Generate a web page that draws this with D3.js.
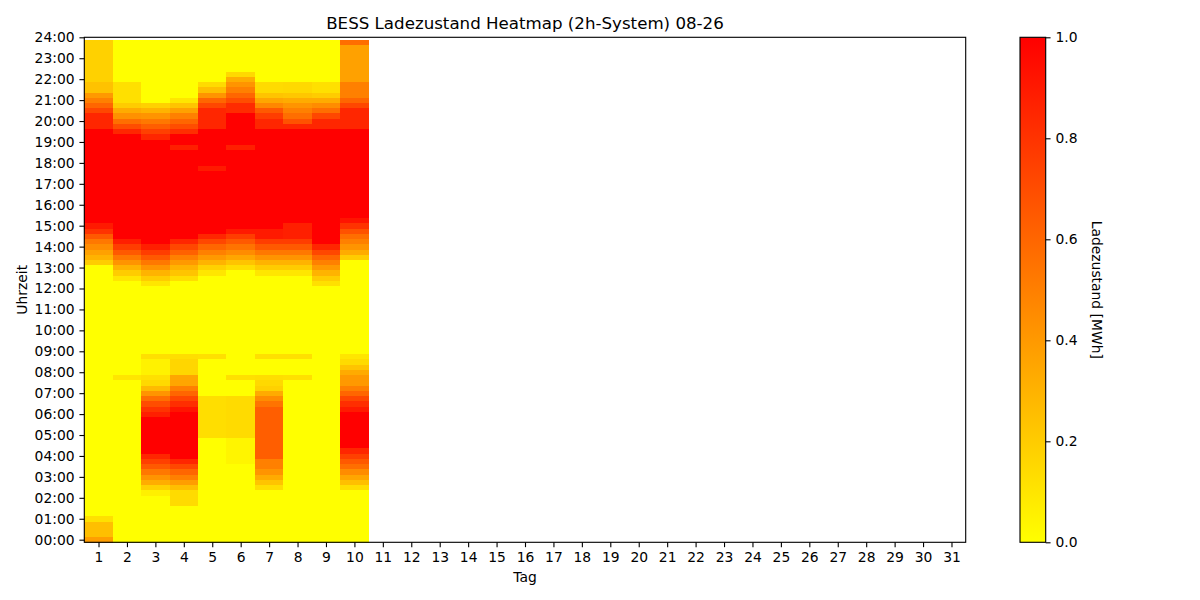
<!DOCTYPE html>
<html>
<head>
<meta charset="utf-8">
<script src="https://cdn.jsdelivr.net/npm/d3@7"></script>
<style>
  body { margin: 0; background: #fff; }
  svg text { font-family: "DejaVu Sans", sans-serif; fill: #000; }
</style>
</head>
<body>
<div id="chart"></div>
<script>
// days of the month on the x axis
const days = d3.range(1, 32);
// hour tick labels on the y axis (ticks sit on 15-min row centres)
const hourLabels = ["00:00","01:00","02:00","03:00","04:00","05:00","06:00","07:00","08:00","09:00","10:00","11:00","12:00",
  "13:00","14:00","15:00","16:00","17:00","18:00","19:00","20:00","21:00","22:00","23:00","24:00"];
const colorbarTicks = [0.0, 0.2, 0.4, 0.6, 0.8, 1.0];

// state of charge [MWh] per 15-min slot, 00:00 .. 23:45 (one line = two hours)
const soc01 = [
  0.38,0.25,0.25,0.25, 0.12,0,0,0,
  0,0,0,0, 0,0,0,0,
  0,0,0,0, 0,0,0,0,
  0,0,0,0, 0,0,0,0,
  0,0,0,0, 0,0,0,0,
  0,0,0,0, 0,0,0,0,
  0,0,0,0, 0,0.2,0.3,0.37,
  0.45,0.53,0.65,0.8, 0.9,1,1,1,
  1,1,1,1, 1,1,1,1,
  1,1,1,1, 1,1,1,0.85,
  0.85,0.85,0.72,0.6, 0.5,0.4,0.24,0.24,
  0.18,0.18,0.18,0.18, 0.18,0.18,0.18,0.18
];
const soc02 = [
  0,0,0,0, 0,0,0,0,
  0,0,0,0, 0,0,0,0,
  0,0,0,0, 0,0,0,0,
  0,0,0,0, 0,0,0,0.1,
  0,0,0,0, 0,0,0,0,
  0,0,0,0, 0,0,0,0,
  0,0,0.1,0.2, 0.3,0.42,0.53,0.65,
  0.76,0.88,1,1, 1,1,1,1,
  1,1,1,1, 1,1,1,1,
  1,1,1,1, 1,1,0.85,0.7,
  0.57,0.43,0.33,0.2, 0.12,0.12,0.12,0.12,
  0,0,0,0, 0,0,0,0
];
const soc03 = [
  0,0,0,0, 0,0,0,0,
  0,0.06,0.18,0.32, 0.42,0.53,0.65,0.75,
  0.85,1,1,1, 1,1,1,1,
  0.88,0.8,0.7,0.57, 0.42,0.27,0.15,0.12,
  0.05,0.05,0.05,0.12, 0,0,0,0,
  0,0,0,0, 0,0,0,0,
  0,0.1,0.2,0.3, 0.42,0.53,0.65,0.76,
  0.88,1,1,1, 1,1,1,1,
  1,1,1,1, 1,1,1,1,
  1,1,1,1, 1,0.85,0.75,0.63,
  0.53,0.42,0.3,0.18, 0,0,0,0,
  0,0,0,0, 0,0,0,0
];
const soc04 = [
  0,0,0,0, 0,0,0,0.14,
  0.14,0.14,0.25,0.38, 0.5,0.6,0.72,0.85,
  1,1,1,1, 1,1,1,1,
  1,0.92,0.82,0.72, 0.6,0.5,0.35,0.35,
  0.16,0.16,0.16,0.13, 0,0,0,0,
  0,0,0,0, 0,0,0,0,
  0,0,0.13,0.23, 0.3,0.4,0.5,0.62,
  0.72,0.85,1,1, 1,1,1,1,
  1,1,1,1, 1,1,1,1,
  1,1,1,0.88, 1,1,0.82,0.7,
  0.6,0.5,0.37,0.23, 0.1,0,0,0,
  0,0,0,0, 0,0,0,0
];
const soc05 = [
  0,0,0,0, 0,0,0,0,
  0,0,0,0, 0,0,0,0,
  0,0,0,0, 0.13,0.13,0.13,0.13,
  0.13,0.13,0.13,0.13, 0,0,0,0,
  0,0,0,0.12, 0,0,0,0,
  0,0,0,0, 0,0,0,0,
  0,0,0,0.1, 0.18,0.3,0.4,0.5,
  0.6,0.72,0.85,1, 1,1,1,1,
  1,1,1,1, 1,1,1,0.9,
  1,1,1,1, 1,1,1,0.85,
  0.85,0.85,0.85,0.72, 0.6,0.42,0.25,0.14,
  0,0,0,0, 0,0,0,0
];
const soc06 = [
  0,0,0,0, 0,0,0,0,
  0,0,0,0, 0,0,0,0.04,
  0.04,0.04,0.04,0.04, 0.14,0.14,0.14,0.14,
  0.14,0.14,0.14,0.14, 0,0,0,0.12,
  0,0,0,0, 0,0,0,0,
  0,0,0,0, 0,0,0,0,
  0,0,0,0, 0.13,0.23,0.35,0.45,
  0.55,0.65,0.76,0.9, 1,1,1,1,
  1,1,1,1, 1,1,1,1,
  1,1,1,0.88, 1,1,1,1,
  1,1,0.83,0.83, 0.7,0.6,0.5,0.42,
  0.32,0.15,0,0, 0,0,0,0
];
const soc07 = [
  0,0,0,0, 0,0,0,0,
  0,0,0.13,0.23, 0.33,0.42,0.5,0.5,
  0.63,0.63,0.63,0.63, 0.63,0.63,0.63,0.63,
  0.63,0.63,0.55,0.45, 0.33,0.18,0.15,0.13,
  0,0,0,0.12, 0,0,0,0,
  0,0,0,0, 0,0,0,0,
  0,0,0,0.1, 0.2,0.3,0.42,0.53,
  0.65,0.76,0.9,0.9, 1,1,1,1,
  1,1,1,1, 1,1,1,1,
  1,1,1,1, 1,1,1,0.85,
  0.85,0.76,0.65,0.47, 0.35,0.23,0.14,0.14,
  0,0,0,0, 0,0,0,0
];
const soc08 = [
  0,0,0,0, 0,0,0,0,
  0,0,0,0, 0,0,0,0,
  0,0,0,0, 0,0,0,0,
  0,0,0,0, 0,0,0,0.12,
  0,0,0,0.12, 0,0,0,0,
  0,0,0,0, 0,0,0,0,
  0,0,0,0.1, 0.2,0.3,0.42,0.53,
  0.65,0.76,0.88,0.88, 0.88,1,1,1,
  1,1,1,1, 1,1,1,1,
  1,1,1,1, 1,1,1,0.85,
  0.68,0.57,0.5,0.42, 0.33,0.22,0.15,0.15,
  0,0,0,0, 0,0,0,0
];
const soc09 = [
  0,0,0,0, 0,0,0,0,
  0,0,0,0, 0,0,0,0,
  0,0,0,0, 0,0,0,0,
  0,0,0,0, 0,0,0,0,
  0,0,0,0, 0,0,0,0,
  0,0,0,0, 0,0,0,0,
  0,0.12,0.2,0.3, 0.4,0.5,0.6,0.72,
  0.85,1,1,1, 1,1,1,1,
  1,1,1,1, 1,1,1,1,
  1,1,1,1, 1,1,1,0.85,
  0.85,0.72,0.57,0.45, 0.33,0.2,0.12,0.12,
  0,0,0,0, 0,0,0,0
];
const soc10 = [
  0,0,0,0, 0,0,0,0,
  0,0,0.13,0.25, 0.35,0.45,0.57,0.65,
  0.75,0.85,1,1, 1,1,1,1,
  1,0.9,0.82,0.72, 0.6,0.5,0.4,0.4,
  0.33,0.23,0.14,0.1, 0,0,0,0,
  0,0,0,0, 0,0,0,0,
  0,0,0,0, 0,0,0.2,0.33,
  0.42,0.5,0.57,0.68, 0.8,0.92,1,1,
  1,1,1,1, 1,1,1,1,
  1,1,1,1, 1,1,1,0.85,
  0.85,0.85,0.85,0.72, 0.6,0.5,0.5,0.5,
  0.37,0.37,0.37,0.37, 0.37,0.37,0.37,0.57
];
// days 11..31 have no data yet
const socByDay = [soc01, soc02, soc03, soc04, soc05, soc06, soc07, soc08, soc09, soc10];

const w = 1200;
const h = 600;
const plot = { left: 84.3, right: 965.7, top: 37.3, bottom: 542.3 };
const cbar = { left: 1020, right: 1045.7 };
const pt = 100 / 72;

// flatten into cells
const cells = [];
socByDay.forEach(function (arr, i) {
  arr.forEach(function (v, r) {
    cells.push({ day: i + 1, slot: r, value: v });
  });
});

const xScale = d3.scaleLinear().domain([0.5, 31.5]).range([plot.left, plot.right]);
// rows are 15-minute slots; slot r is centred at r/4 hours, axis runs up to 24:00
const yScale = d3.scaleLinear().domain([-0.125, 24]).range([plot.bottom, plot.top]);
const color = d3.scaleSequential([0, 1], d3.interpolateRgb("#ffff00", "#ff0000"));

const svg = d3.select("#chart").append("svg").attr("width", w).attr("height", h);

svg.append("g")
  .attr("shape-rendering", "crispEdges")
  .selectAll("rect")
  .data(cells)
  .enter()
  .append("rect")
  .attr("x", (d) => xScale(d.day - 0.5))
  .attr("width", (d) => xScale(d.day + 0.5) - xScale(d.day - 0.5) + 0.3)
  .attr("y", (d) => yScale((d.slot + 0.5) / 4))
  .attr("height", (d) => yScale((d.slot - 0.5) / 4) - yScale((d.slot + 0.5) / 4) + 0.3)
  .style("fill", (d) => color(d.value));

const tickLen = 3.5 * pt;
const fontSize = 10 * pt;

const xAxis = d3.axisBottom(xScale).tickValues(days).tickFormat(d3.format("d"))
  .tickSizeInner(tickLen).tickSizeOuter(0).tickPadding(3.5 * pt);
const yAxis = d3.axisLeft(yScale).tickValues(d3.range(0, 25)).tickFormat((d) => hourLabels[d])
  .tickSizeInner(tickLen).tickSizeOuter(0).tickPadding(3.5 * pt);

const gx = svg.append("g")
  .attr("transform", `translate(0, ${plot.bottom})`)
  .call(xAxis);
const gy = svg.append("g")
  .attr("transform", `translate(${plot.left}, 0)`)
  .call(yAxis);

[gx, gy].forEach(function (g) {
  g.select(".domain").remove();
  g.selectAll(".tick line").attr("stroke", "#000").attr("stroke-width", 0.8 * pt);
  g.selectAll(".tick text").style("font-size", fontSize + "px").style("font-family", "DejaVu Sans");
});

// axes frame
svg.append("rect")
  .attr("x", plot.left).attr("y", plot.top)
  .attr("width", plot.right - plot.left).attr("height", plot.bottom - plot.top)
  .attr("fill", "none").attr("stroke", "#000").attr("stroke-width", 0.8 * pt);

svg.append("text")
  .attr("x", (plot.left + plot.right) / 2).attr("y", 29)
  .attr("text-anchor", "middle")
  .style("font-size", 12 * pt + "px")
  .text("BESS Ladezustand Heatmap (2h-System) 08-26");

svg.append("text")
  .attr("x", (plot.left + plot.right) / 2).attr("y", 582)
  .attr("text-anchor", "middle")
  .style("font-size", fontSize + "px")
  .text("Tag");

svg.append("text")
  .attr("transform", `translate(27, ${(plot.top + plot.bottom) / 2}) rotate(-90)`)
  .attr("text-anchor", "middle")
  .style("font-size", fontSize + "px")
  .text("Uhrzeit");

// colorbar
const defs = svg.append("defs");
const grad = defs.append("linearGradient")
  .attr("id", "cbar-grad")
  .attr("x1", "0").attr("y1", "1").attr("x2", "0").attr("y2", "0");
colorbarTicks.forEach(function (t) {
  grad.append("stop").attr("offset", t).attr("stop-color", color(t));
});

const cScale = d3.scaleLinear().domain([0, 1]).range([plot.bottom, plot.top]);

svg.append("rect")
  .attr("x", cbar.left).attr("y", plot.top)
  .attr("width", cbar.right - cbar.left).attr("height", plot.bottom - plot.top)
  .attr("fill", "url(#cbar-grad)")
  .attr("stroke", "#000").attr("stroke-width", 0.8 * pt);

const cAxis = d3.axisRight(cScale).tickValues(colorbarTicks).tickFormat(d3.format(".1f"))
  .tickSizeInner(tickLen).tickSizeOuter(0).tickPadding(3.5 * pt);
const gc = svg.append("g")
  .attr("transform", `translate(${cbar.right}, 0)`)
  .call(cAxis);
gc.select(".domain").remove();
gc.selectAll(".tick line").attr("stroke", "#000").attr("stroke-width", 0.8 * pt);
gc.selectAll(".tick text").style("font-size", fontSize + "px").style("font-family", "DejaVu Sans");

svg.append("text")
  .attr("transform", `translate(1092, ${(plot.top + plot.bottom) / 2}) rotate(90)`)
  .attr("text-anchor", "middle")
  .style("font-size", fontSize + "px")
  .text("Ladezustand [MWh]");
</script>
</body>
</html>
